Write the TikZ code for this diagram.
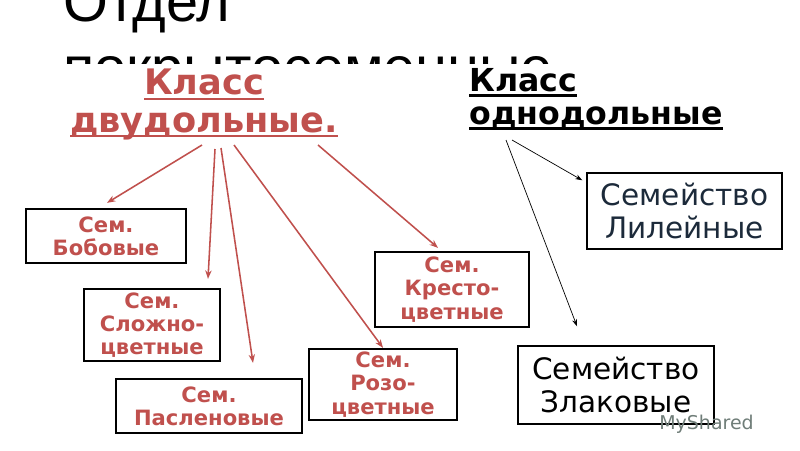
\documentclass[tikz,border=0pt]{standalone}
\usepackage{fontspec}
\setmainfont{DejaVu Sans}
\newfontfamily\titlefont{Liberation Sans}
\newsavebox{\headbox}
\newcommand{\headline}[1]{\sbox{\headbox}{#1}\rlap{\rule[-3.5pt]{\wd\headbox}{1.6pt}}\usebox{\headbox}}
\usepackage{xcolor}
\definecolor{DicotRed}{HTML}{C0504D}
\definecolor{MonoNavy}{HTML}{1C2A3A}
\definecolor{MarkGray}{HTML}{6F7D78}
\usepackage{tikz}
\usetikzlibrary{arrows.meta,calc}
\tikzset{
  dicbox/.style={draw=black,line width=1.6pt,fill=white,align=center,inner sep=2pt,text=DicotRed,font=\fontsize{15}{16.5}\selectfont\bfseries},
  monbox/.style={draw=black,line width=1pt,fill=white,align=center,inner sep=2pt,font=\fontsize{21}{23}\selectfont},
  dichead/.style={align=center,inner sep=0pt,text=DicotRed,font=\fontsize{25}{26.5}\selectfont\bfseries},
  monhead/.style={align=left,inner sep=0pt,text=black,font=\fontsize{22.5}{23.5}\selectfont\bfseries},
  dicflow/.style={-{Stealth[length=6pt,width=4.5pt]},draw=DicotRed,line width=1.1pt},
  monflow/.style={-{Stealth[length=5pt,width=3.5pt]},draw=black,line width=0.5pt}
}

\begin{document}
\begin{tikzpicture}[x=0.025cm,y=-0.025cm]
  \useasboundingbox (0,0) rectangle (800,450);
  \fill[white] (0,0) rectangle (800,450);
  % title, cut off by the slide
  \begin{scope}
    \clip (0,0) rectangle (800,63);
    \node[anchor=base west,inner sep=0pt,font=\titlefont\fontsize{41}{47}\selectfont] (title1) at (63,21) {Отдел};
    \node[anchor=base west,inner sep=0pt,font=\titlefont\fontsize{41}{47}\selectfont] (title2) at (63,87) {покрытосеменные};
  \end{scope}
  % classes
  \node[dichead,anchor=south] (dicot) at (204,140) {\headline{Класс}\\\headline{двудольные.}};
  \node[monhead,anchor=south west] (monocot) at (469,130) {\headline{Класс}\\\headline{однодольные}};
  % families
  \node[dicbox,minimum width=4cm,minimum height=1.35cm] (bob) at (106,236) {Сем.\\Бобовые};
  \node[dicbox,minimum width=3.4cm,minimum height=1.8cm] (slozh) at (152,325) {Сем.\\Сложно-\\цветные};
  \node[dicbox,minimum width=4.65cm,minimum height=1.35cm] (pasl) at (209,406) {Сем.\\Пасленовые};
  \node[dicbox,minimum width=3.7cm,minimum height=1.775cm] (rozo) at (383,384.5) {Сем.\\Розо-\\цветные};
  \node[dicbox,minimum width=3.85cm,minimum height=1.875cm] (kresto) at (452,289.5) {Сем.\\Кресто-\\цветные};
  \node[monbox,text=MonoNavy,minimum width=4.875cm,minimum height=1.9cm] (lil) at (684.5,211) {Семейство\\Лилейные};
  \node[monbox,minimum width=4.9cm,minimum height=1.95cm] (zlak) at (616,385) {Семейство\\Злаковые};
  % arrows
  \draw[dicflow] ($(dicot.south)+(-2,5)$) -- ($(bob.north)+(1,-5)$);
  \draw[dicflow] ($(dicot.south)+(11,9)$) -- ($(slozh.north)+(56,-9)$);
  \draw[dicflow] ($(dicot.south)+(17,8)$) -- ($(pasl.north)+(44,-15)$);
  \draw[dicflow] ($(dicot.south)+(30,5)$) -- (rozo.north);
  \draw[dicflow] ($(dicot.south)+(114,5)$) -- ($(kresto.north)+(-14,-3)$);
  \draw[monflow] ($(monocot.south west)+(43,10)$) -- ($(lil.north west)+(-4,8)$);
  \draw[monflow] ($(monocot.south west)+(37,10)$) -- ($(zlak.north)+(-39,-19)$);
  % watermark
  \node[anchor=base west,inner sep=0pt,text=MarkGray,font=\fontsize{13.5}{15}\selectfont] (mark) at (659,429) {MyShared};
\end{tikzpicture}
\end{document}
